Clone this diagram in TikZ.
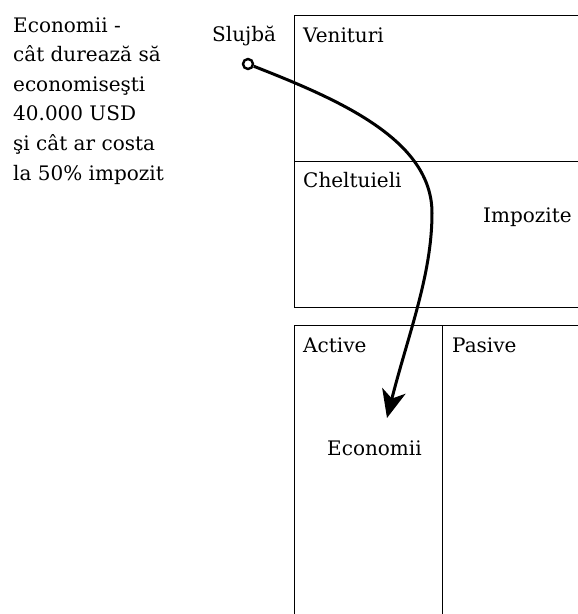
\documentclass[tikz,border=0pt]{standalone}
\usepackage{fontspec}
\setmainfont{DejaVu Serif}
\usetikzlibrary{arrows.meta}

\begin{document}
\begin{tikzpicture}[x=1pt, y=-1pt, font=\fontsize{20}{30}\selectfont]
    \clip (0,0) rectangle (578,614);
    \fill[white] (0,0) rectangle (578,614);
    \draw[line width=0.9pt] (600,15) -- (294,15) -- (294,307) -- (600,307);
    \draw[line width=0.9pt] (294,161) -- (600,161);
    \draw[line width=0.9pt] (600,325) -- (294,325) -- (294,640);
    \draw[line width=0.9pt] (442,325) -- (442,640);
    \foreach \txt [count=\i] in {Economii -, cât durează să, economiseşti, 40.000 USD, şi cât ar costa, la 50\% impozit}
        \node[anchor=base west, inner sep=0] (note\i) at (13, {32+29.6*(\i-1)}) {\txt};
    \node[anchor=base west, inner sep=0] (slujba) at (212,41) {Slujbă};
    \node[anchor=base west, inner sep=0] (venituri) at (303,42) {Venituri};
    \node[anchor=base west, inner sep=0] (cheltuieli) at (303,187) {Cheltuieli};
    \node[anchor=base west, inner sep=0] (impozite) at (483,222) {Impozite};
    \node[anchor=base west, inner sep=0] (active) at (303,352) {Active};
    \node[anchor=base west, inner sep=0] (pasive) at (452,352) {Pasive};
    \node[anchor=base west, inner sep=0] (economii) at (327,455) {Economii};
    \node[circle, draw, line width=2.4pt, minimum size=10pt, inner sep=0] (start) at (248,64) {};
    \coordinate (tip) at (387,418);
    \draw[line width=3pt, line join=round, -{Stealth[length=28pt, width=24pt, inset=8pt]}]
        (start) .. controls (340,100) and (432,140) .. (432,213)
        .. controls (432,275) and (408,335) .. (tip);
\end{tikzpicture}
\end{document}
